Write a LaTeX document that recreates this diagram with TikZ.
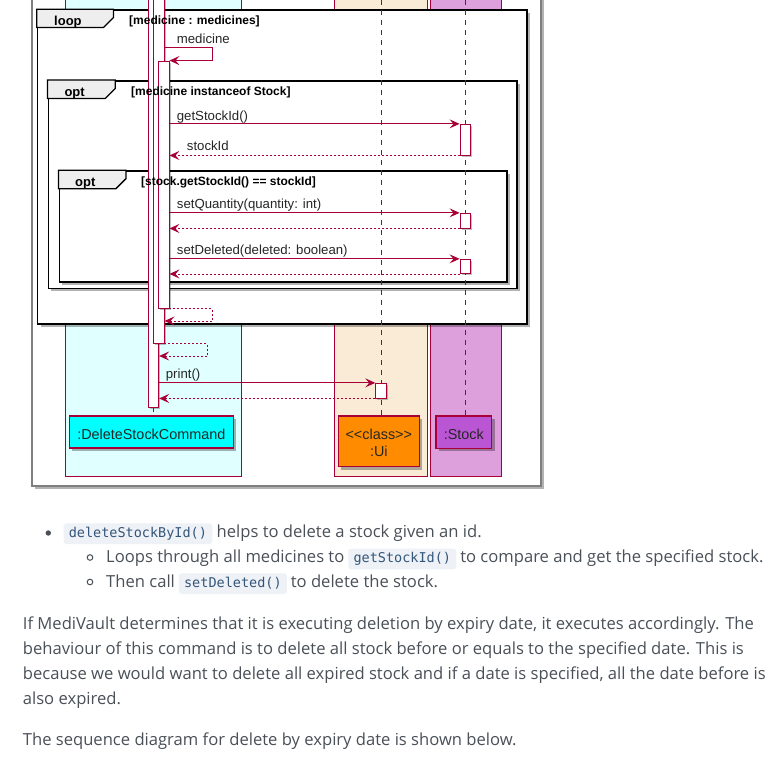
\documentclass[tikz,border=0pt]{standalone}
\usepackage{fontspec}
\setmainfont{Liberation Sans}
\newfontfamily\bodyfont{Open Sans}
\newfontfamily\codefont{DejaVu Sans Mono}
\usetikzlibrary{arrows.meta,shadows,fit}
\definecolor{crim}{HTML}{A80036}
\definecolor{grpcyan}{HTML}{E0FFFF}
\definecolor{grpbeige}{HTML}{FAEBD7}
\definecolor{grpplum}{HTML}{DDA0DD}
\definecolor{pcyan}{HTML}{00FFFF}
\definecolor{porange}{HTML}{FF8C00}
\definecolor{porchid}{HTML}{BA55D3}
\definecolor{tabgray}{HTML}{EEEEEE}
\definecolor{bodycol}{HTML}{4A5058}
\definecolor{codecol}{HTML}{34557A}
\definecolor{codebg}{HTML}{EEF2F7}
\definecolor{bordergray}{HTML}{7F7F7F}
\tikzset{
  outerbox/.style={draw=bordergray, fill=white, line width=1.2pt, inner sep=0pt,
    drop shadow={shadow xshift=3pt, shadow yshift=-3pt, opacity=.3, fill=black}},
  grp/.style={draw=crim, line width=0.9pt, inner sep=0pt},
  frm/.style={draw=black, fill=white, line width=1.6pt, inner sep=0pt,
    drop shadow={shadow xshift=3pt, shadow yshift=-3pt, opacity=.3, fill=black}},
  tabsh/.style={draw=black, fill=tabgray, line width=1.3pt, line join=miter},
  act/.style={draw=crim, fill=white, line width=0.9pt, inner sep=0pt,
    drop shadow={shadow xshift=1.5pt, shadow yshift=-1.5pt, opacity=.25, fill=black}},
  part/.style={draw=crim, line width=1.2pt, inner sep=0pt,
    drop shadow={shadow xshift=3pt, shadow yshift=-3pt, opacity=.3, fill=black}},
  msg/.style={draw=crim, line width=0.9pt, -{Stealth[length=10pt,width=9pt,inset=4pt]}},
  ret/.style={msg, dash pattern=on 2pt off 2pt},
  lifeln/.style={draw=crim, line width=0.9pt, dash pattern=on 5pt off 5pt},
  mlbl/.style={font=\fontsize{13.2pt}{15pt}\selectfont, text=black!85, inner sep=0pt, anchor=base west},
  cond/.style={font=\bfseries\fontsize{12pt}{14pt}\selectfont, text=black, inner sep=0pt, anchor=base west},
  tablbl/.style={font=\bfseries\fontsize{13pt}{15pt}\selectfont, text=black, inner sep=0pt, anchor=base west},
  plbl/.style={font=\fontsize{14.4pt}{17pt}\selectfont, text=black!85, inner sep=0pt, anchor=base},
  body/.style={font=\bodyfont\fontsize{16.6pt}{20pt}\selectfont, text=bodycol, inner sep=0pt, anchor=base west},
  codebox/.style={font=\codefont\fontsize{13.5pt}{16pt}\selectfont, text=codecol, fill=codebg,
    rounded corners=3pt, inner xsep=5.3pt, inner ysep=3pt, text height=11pt, text depth=3.7pt, anchor=base west},
}
\begin{document}
\begin{tikzpicture}[x=1pt,y=-1pt]
\useasboundingbox (0,0) rectangle (782,764);
\fill[white] (0,0) rectangle (782,764);
\begin{scope}
\clip (0,0) rectangle (782,764);
% outer image border
\node[outerbox, fit={(32,-10)(541,486)}] (OB) {};
% participant group boxes
\node[grp, fill=grpcyan, fit={(65,-10)(241.7,476)}] (G1) {};
\node[grp, fill=grpbeige, fit={(334.3,-10)(427.7,476)}] (G2) {};
\node[grp, fill=grpplum, fit={(430.3,-10)(501.7,476)}] (G3) {};
% frames
\node[frm, fit={(37.5,10)(526.7,324)}] (F1) {};
\draw[tabsh] (F1.north west) -- ++(76.8,0) -- ++(0,8.3) -- ++(-10,10) -- ++(-66.8,0) -- cycle;
\node[tablbl] (F1t) at (54,25) {loop};
\node[frm, fit={(48.3,80.7)(516.7,288.3)}] (F2) {};
\draw[tabsh] (F2.north west) -- ++(67.7,0) -- ++(0,8.6) -- ++(-10,10) -- ++(-57.7,0) -- cycle;
\node[tablbl] (F2t) at (64.3,96.3) {opt};
\node[frm, fit={(59.3,171)(506.7,281.7)}] (F3) {};
\draw[tabsh] (F3.north west) -- ++(67.4,0) -- ++(0,8.5) -- ++(-10,10) -- ++(-57.4,0) -- cycle;
\node[tablbl] (F3t) at (75,186.3) {opt};
% participants
\node[part, fill=pcyan, minimum width=164pt, minimum height=32pt] (P1) at (151.3,432) {};
\node[part, fill=porange, minimum width=81pt, minimum height=50.7pt] (P2) at (378.8,441.35) {};
\node[part, fill=porchid, minimum width=55.7pt, minimum height=32.3pt] (P3) at (463.85,432.15) {};
\node[plbl] (P1t) at (151.3,439.3) {:DeleteStockCommand};
\node[plbl] (P2ta) at (378.8,439) {<{}<class>{}>};
\node[plbl] (P2tb) at (378.8,456) {:Ui};
\node[plbl] (P3t) at (463.85,439.3) {:Stock};
% lifelines
\coordinate (LU) at (381,-10);
\coordinate (LS) at (465.3,-10);
\draw[lifeln] (LU) -- (LU |- P2.north);
\draw[lifeln] (LS) -- (LS |- P3.north);
% activations
\node[act, fit={(148.3,-10)(158.7,407)}] (A1) {};
\node[act, fit={(153.3,-10)(164,343.3)}] (A2) {};
\node[act, fit={(158.7,61)(169,308)}] (A3) {};
\node[act, fit={(460,124.3)(470.3,155)}] (S1) {};
\node[act, fit={(460,213.3)(470.3,228)}] (S2) {};
\node[act, fit={(460,259.3)(470.3,273.5)}] (S3) {};
\node[act, fit={(375.7,383.3)(386,398)}] (U1) {};
\draw[lifeln] (A1.south) -- (A1.south |- P1.north);
% frame conditions (drawn over the activations)
\node[cond] (F1c) at (129,24.5) {[medicine : medicines]};
\node[cond] (F2c) at (131,95.5) {[medicine instanceof Stock]};
\node[cond] (F3c) at (141,185.8) {[stock.getStockId() == stockId]};
% messages
\coordinate (M0) at (212.3,47.3);
\draw[msg] (A2.east |- M0) -- (M0) |- (A3.north east);
\node[mlbl] (m0t) at (176.7,43.3) {medicine};
\draw[msg] (A3.east |- S1.north) -- (S1.north west);
\node[mlbl] (m1t) at (176.7,120) {getStockId()};
\draw[ret] (S1.south west) -- (A3.east |- S1.south);
\node[mlbl] (m2t) at (186.7,150.5) {stockId};
\draw[msg] (A3.east |- S2.north) -- (S2.north west);
\node[mlbl] (m3t) at (176.7,208.5) {setQuantity(quantity: int)};
\draw[ret] (S2.south west) -- (A3.east |- S2.south);
\draw[msg] (A3.east |- S3.north) -- (S3.north west);
\node[mlbl] (m4t) at (176.7,254.5) {setDeleted(deleted: boolean)};
\draw[ret] (S3.south west) -- (A3.east |- S3.south);
\coordinate (R1) at (212.3,321);
\draw[ret] (A3.south east) -| (R1) -- (A2.east |- R1);
\coordinate (R2) at (207.7,356);
\draw[ret] (A2.south east) -| (R2) -- (A1.east |- R2);
\draw[msg] (A1.east |- U1.north) -- (U1.north west);
\node[mlbl] (m5t) at (165.7,378.5) {print()};
\draw[ret] (U1.south west) -- (A1.east |- U1.south);
\end{scope}
% text below
\node[circle, fill=bodycol, inner sep=0pt, minimum size=5.4pt] (B1) at (48.3,533) {};
\node[codebox] (c1) at (63.3,537.3) {deleteStockById()};
\node[body] (l1) at ([xshift=4pt]c1.base east) {helps to delete a stock given an id.};
\node[circle, draw=bodycol, line width=1pt, inner sep=0pt, minimum size=5.6pt] (B2) at (90,557.5) {};
\node[body] (l2a) at (106,562.7) {Loops through all medicines to};
\node[codebox] (c2) at ([xshift=3.5pt]l2a.base east) {getStockId()};
\node[body] (l2b) at ([xshift=3.5pt]c2.base east) {to compare and get the specified stock.};
\node[circle, draw=bodycol, line width=1pt, inner sep=0pt, minimum size=5.6pt] (B3) at (90,582) {};
\node[body] (l3a) at (106,587.3) {Then call};
\node[codebox] (c3) at ([xshift=3.5pt]l3a.base east) {setDeleted()};
\node[body] (l3b) at ([xshift=3.5pt]c3.base east) {to delete the stock.};
\node[body] (p1) at (22.7,629) {If MediVault determines that it is executing deletion by expiry date, it executes accordingly. The};
\node[body] (p2) at (22.7,654.3) {behaviour of this command is to delete all stock before or equals to the specified date. This is};
\node[body] (p3) at (22.7,679.3) {because we would want to delete all expired stock and if a date is specified, all the date before is};
\node[body] (p4) at (22.7,704.3) {also expired.};
\node[body] (p5) at (22.7,745.7) {The sequence diagram for delete by expiry date is shown below.};
\end{tikzpicture}
\end{document}
